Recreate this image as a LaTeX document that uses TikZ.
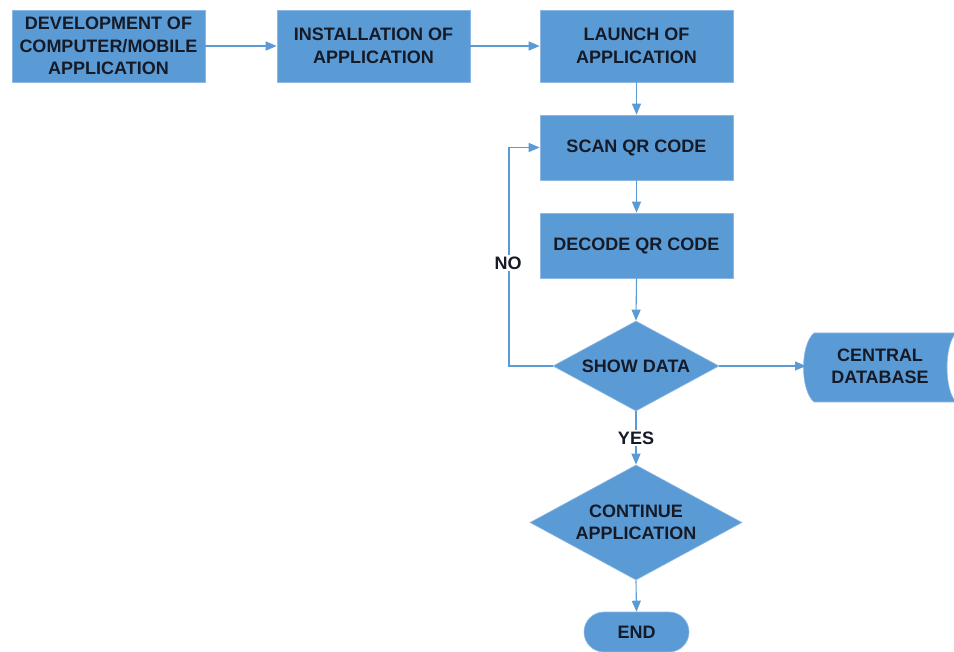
\documentclass[tikz,border=0pt]{standalone}
\usepackage{fontspec}
\setmainfont{Liberation Sans}
\usetikzlibrary{arrows.meta,shapes.geometric}
\definecolor{flowblue}{HTML}{5B9BD5}
\definecolor{rimblue}{HTML}{8DB9E4}
\definecolor{inkdark}{HTML}{151A26}
\tikzset{
  x=1pt, y=-1pt,
  lbl/.style={font=\fontsize{18}{22.5}\selectfont\bfseries, text=inkdark, align=center},
  procbox/.style={lbl, fill=flowblue, draw=rimblue, line width=0.6pt, minimum width=193pt, inner sep=0pt},
  decision/.style={lbl, diamond, shape aspect=1.84, fill=flowblue, draw=rimblue, line width=0.6pt, inner sep=0pt},
  terminal/.style={lbl, fill=flowblue, draw=rimblue, line width=0.6pt, rounded corners=20pt, minimum width=105pt, minimum height=40pt, inner sep=0pt},
  flow/.style={draw=flowblue, line width=1.1pt, -{Triangle[length=11pt,width=9pt]}},
  plain/.style={lbl, inner sep=0pt},
  tag/.style={lbl, fill=white, inner sep=2pt}
}
\begin{document}
\begin{tikzpicture}
\useasboundingbox (0,0) rectangle (954,652);
\begin{scope}
\clip (0,0) rectangle (954,652);

% process steps
\node[procbox, minimum height=72pt] (dev) at (108.5,46) {DEVELOPMENT OF\\COMPUTER/MOBILE\\APPLICATION};
\node[procbox, minimum height=72pt] (inst) at (373.5,46) {INSTALLATION OF\\APPLICATION};
\node[procbox, minimum height=72pt] (launch) at (636.5,46) {LAUNCH OF\\APPLICATION};
\node[procbox, minimum height=65pt] (scan) at (636.5,147.5) {SCAN QR CODE};
\node[procbox, minimum height=65pt] (decode) at (636.5,245.5) {DECODE QR CODE};

% decisions
\node[decision, minimum width=166pt, minimum height=90pt] (show) at (636,366) {SHOW DATA};
\node[decision, minimum width=212pt, minimum height=115pt] (cont) at (636,522.5) {CONTINUE\\APPLICATION};

% terminal
\node[terminal] (end) at (636.5,632) {END};

% stored data
\path[fill=flowblue, draw=rimblue, line width=0.6pt]
  (814,333) -- (956,333) .. controls (944,345) and (944,390) .. (956,402)
  -- (814,402) .. controls (800,390) and (800,345) .. (814,333) -- cycle;
\node[plain] (db) at (880,366.5) {CENTRAL\\DATABASE};
\coordinate (dbin) at (806,366);

% connectors
\draw[flow] (dev.east) -- (inst.west);
\draw[flow] (inst.east) -- (launch.west);
\draw[flow] (launch.south) -- (scan.north);
\draw[flow] (scan.south) -- (decode.north);
\draw[flow] (decode.south) -- (show.north);
\draw[flow] (show.east) -- (dbin);
\draw[flow] (show.south) -- node[tag] (yes) {YES} (cont.north);
\draw[flow] (cont.south) -- (end.north);
\draw[flow] (show.west) -| (509,147.5) -- (scan.west);
\node[tag] (no) at (508,263) {NO};
\end{scope}
\end{tikzpicture}
\end{document}
